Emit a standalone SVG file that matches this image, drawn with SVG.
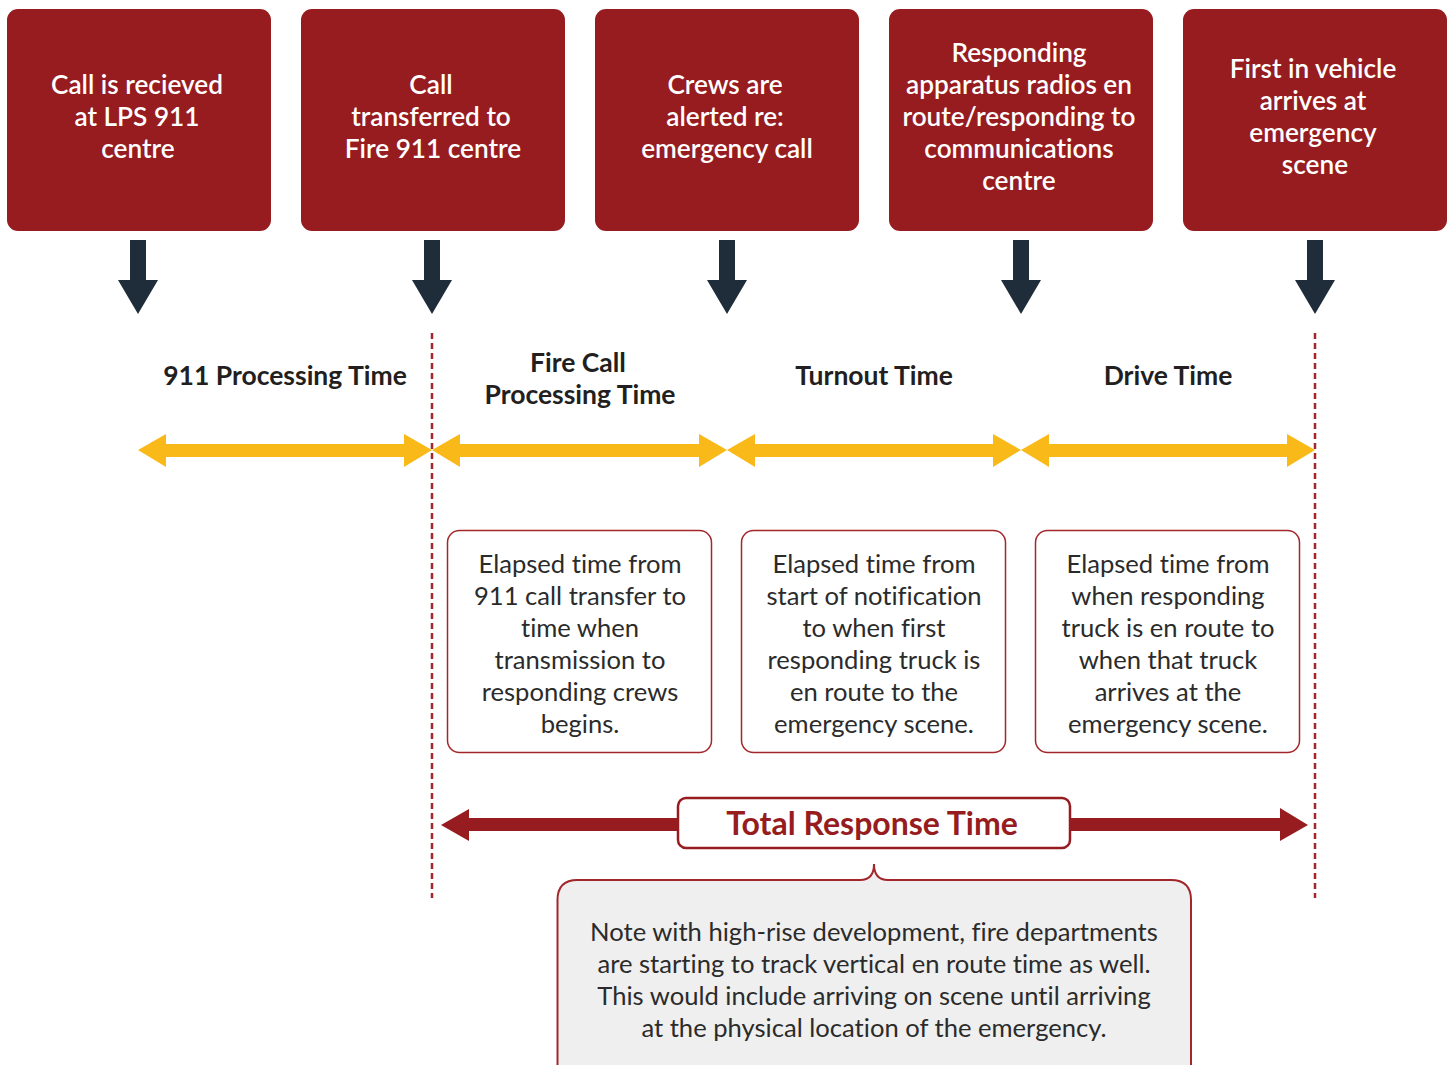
<svg xmlns="http://www.w3.org/2000/svg" width="1448" height="1065" viewBox="0 0 1448 1065">
<style>
text{font-variant-ligatures:none}
.top{fill:#961c20}
.tt{font-family:Lato,"Liberation Sans",sans-serif;font-size:26.2px;font-weight:600;fill:#ffffff;text-anchor:middle}
.lbl{font-family:Lato,"Liberation Sans",sans-serif;font-size:26.5px;font-weight:700;fill:#231f20;text-anchor:middle}
.desc{fill:#ffffff;stroke:#a3262b;stroke-width:1.5}
.dt{font-family:Lato,"Liberation Sans",sans-serif;font-size:25.6px;font-weight:400;fill:#2b2b2b;text-anchor:middle}
.dark{fill:#1f2d3a}
.yel{fill:#f9b918}
.red{fill:#961c20}
.dash{stroke:#a3262b;stroke-width:2.5;stroke-dasharray:6 4;fill:none}
</style>
<rect width="1448" height="1065" fill="#ffffff"/>
<g id="connectors">
<polygon class="dark" points="130,240 146,240 146,280 158,280 138,314 118,280 130,280"/>
<polygon class="dark" points="424,240 440,240 440,280 452,280 432,314 412,280 424,280"/>
<polygon class="dark" points="719,240 735,240 735,280 747,280 727,314 707,280 719,280"/>
<polygon class="dark" points="1013,240 1029,240 1029,280 1041,280 1021,314 1001,280 1013,280"/>
<polygon class="dark" points="1307,240 1323,240 1323,280 1335,280 1315,314 1295,280 1307,280"/>
<line class="dash" x1="432" y1="333" x2="432" y2="898"/>
<line class="dash" x1="1315" y1="333" x2="1315" y2="898"/>
<polygon class="yel" points="138,450 166,434 166,444 404,444 404,434 432,450 404,467 404,457 166,457 166,467"/>
<polygon class="yel" points="432,450 460,434 460,444 699,444 699,434 727,450 699,467 699,457 460,457 460,467"/>
<polygon class="yel" points="727,450 755,434 755,444 993,444 993,434 1021,450 993,467 993,457 755,457 755,467"/>
<polygon class="yel" points="1021,450 1049,434 1049,444 1287,444 1287,434 1315,450 1287,467 1287,457 1049,457 1049,467"/>
<polygon class="red" points="441,825 469,809 469,818 1280,818 1280,808 1308,825 1280,841 1280,831 469,831 469,841"/>
</g>
<g id="node-1">
<rect class="top" x="7" y="9" width="264" height="222" rx="11"/>
<text class="tt"><tspan x="137" y="94">Call is recieved</tspan><tspan x="137" y="126">at LPS 911</tspan><tspan x="138" y="158">centre</tspan></text>
</g>
<g id="node-2">
<rect class="top" x="301" y="9" width="264" height="222" rx="11"/>
<text class="tt"><tspan x="431" y="94">Call</tspan><tspan x="431" y="126">transferred to</tspan><tspan x="433" y="158">Fire 911 centre</tspan></text>
</g>
<g id="node-3">
<rect class="top" x="595" y="9" width="264" height="222" rx="11"/>
<text class="tt"><tspan x="725" y="94">Crews are</tspan><tspan x="725" y="126">alerted re:</tspan><tspan x="727" y="158">emergency call</tspan></text>
</g>
<g id="node-4">
<rect class="top" x="889" y="9" width="264" height="222" rx="11"/>
<text class="tt"><tspan x="1019" y="62">Responding</tspan><tspan x="1019" y="94">apparatus radios en</tspan><tspan x="1019" y="126">route/responding to</tspan><tspan x="1019" y="158">communications</tspan><tspan x="1019" y="190">centre</tspan></text>
</g>
<g id="node-5">
<rect class="top" x="1183" y="9" width="264" height="222" rx="11"/>
<text class="tt"><tspan x="1313" y="78">First in vehicle</tspan><tspan x="1313" y="110">arrives at</tspan><tspan x="1313" y="142">emergency</tspan><tspan x="1315" y="174">scene</tspan></text>
</g>
<g id="label-911">
<text class="lbl" x="285" y="385">911 Processing Time</text>
</g>
<g id="label-fire">
<text class="lbl"><tspan x="578" y="372">Fire Call</tspan><tspan x="580" y="404">Processing Time</tspan></text>
</g>
<g id="label-turnout">
<text class="lbl" x="874" y="385">Turnout Time</text>
</g>
<g id="label-drive">
<text class="lbl" x="1168" y="385">Drive Time</text>
</g>
<g id="desc-1">
<rect class="desc" x="447.5" y="530.5" width="264" height="222" rx="12"/>
<text class="dt"><tspan x="580" y="573">Elapsed time from</tspan><tspan x="580" y="605">911 call transfer to</tspan><tspan x="580" y="637">time when</tspan><tspan x="580" y="669">transmission to</tspan><tspan x="580" y="701">responding crews</tspan><tspan x="580" y="733">begins.</tspan></text>
</g>
<g id="desc-2">
<rect class="desc" x="741.5" y="530.5" width="264" height="222" rx="12"/>
<text class="dt"><tspan x="874" y="573">Elapsed time from</tspan><tspan x="874" y="605">start of notification</tspan><tspan x="874" y="637">to when first</tspan><tspan x="874" y="669">responding truck is</tspan><tspan x="874" y="701">en route to the</tspan><tspan x="874" y="733">emergency scene.</tspan></text>
</g>
<g id="desc-3">
<rect class="desc" x="1035.5" y="530.5" width="264" height="222" rx="12"/>
<text class="dt"><tspan x="1168" y="573">Elapsed time from</tspan><tspan x="1168" y="605">when responding</tspan><tspan x="1168" y="637">truck is en route to</tspan><tspan x="1168" y="669">when that truck</tspan><tspan x="1168" y="701">arrives at the</tspan><tspan x="1168" y="733">emergency scene.</tspan></text>
</g>
<g id="total">
<rect x="678" y="798" width="392" height="50" rx="8" fill="#ffffff" stroke="#961c20" stroke-width="2.5"/>
<text x="872" y="835" font-family="Lato,'Liberation Sans',sans-serif" font-size="32" font-weight="700" fill="#961c20" text-anchor="middle">Total Response Time</text>
</g>
<g id="note">
<path d="M557.5,1080 L557.5,900 Q557.5,880 577.5,880 L860,880 C870,880 874,874 874,864 C874,874 878,880 888,880 L1171,880 Q1191,880 1191,900 L1191,1080" fill="#efefef" stroke="#a3262b" stroke-width="2"/>
<text class="dt"><tspan x="874" y="941">Note with high-rise development, fire departments</tspan><tspan x="874" y="973">are starting to track vertical en route time as well.</tspan><tspan x="874" y="1005">This would include arriving on scene until arriving</tspan><tspan x="874" y="1037">at the physical location of the emergency.</tspan></text>
</g>
</svg>
